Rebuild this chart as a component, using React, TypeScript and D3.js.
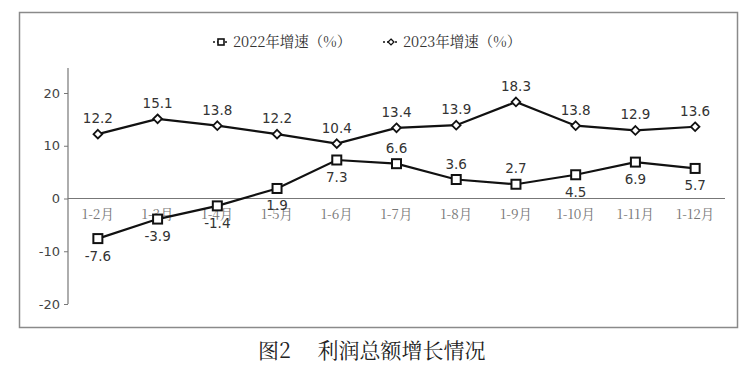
import React, { useEffect, useRef } from "react";
import * as d3 from "d3";

const months = ["1-2月", "1-3月", "1-4月", "1-5月", "1-6月", "1-7月", "1-8月", "1-9月", "1-10月", "1-11月", "1-12月"];
const growth2022 = [-7.6, -3.9, -1.4, 1.9, 7.3, 6.6, 3.6, 2.7, 4.5, 6.9, 5.7];
const growth2023 = [12.2, 15.1, 13.8, 12.2, 10.4, 13.4, 13.9, 18.3, 13.8, 12.9, 13.6];
// label placement for 2022 series: true = above point
const above2022 = [false, false, false, false, false, true, true, true, false, false, false];
const yTicks = [-20, -10, 0, 10, 20];

const width = 747;
const height = 367;

export default function App() {
  const ref = useRef<SVGSVGElement>(null);

  useEffect(() => {
    const svg = d3.select(ref.current);
    svg.selectAll("*").remove();

    const left = 68, right = 725;
    const x = d3.scaleBand().domain(months).range([left, right]);
    const y = d3.scaleLinear().domain([-20, 20]).range([304, 93]);
    const cx = (m: string) => (x(m) as number) + x.bandwidth() / 2;
    const serif = "'Noto Serif CJK SC', 'Liberation Serif', serif";

    // frame
    svg.append("rect")
      .attr("x", 19.5).attr("y", 12.5).attr("width", 718).attr("height", 315)
      .attr("fill", "none").attr("stroke", "#8a8a8a").attr("stroke-width", 1.5);

    // y axis
    const yAxis = d3.axisLeft(y).tickValues(yTicks).tickSize(4).tickFormat((d) => String(d));
    const gy = svg.append("g").attr("transform", `translate(${left},0)`).call(yAxis);
    gy.select(".domain").remove();
    gy.append("line").attr("x1", 0).attr("x2", 0).attr("y1", 68).attr("y2", y(-20))
      .attr("stroke", "#777").attr("stroke-width", 1.2);
    gy.selectAll(".tick line").attr("stroke", "#777");
    gy.selectAll(".tick text")
      .attr("font-family", "'DejaVu Sans', sans-serif").attr("font-size", 13)
      .attr("fill", "#444").attr("x", -8);

    // zero line
    svg.append("line").attr("x1", left).attr("x2", right).attr("y1", y(0)).attr("y2", y(0))
      .attr("stroke", "#777").attr("stroke-width", 1.2);

    // category labels
    svg.append("g").selectAll("text").data(months).join("text")
      .attr("x", (d) => cx(d)).attr("y", y(0) + 20)
      .attr("text-anchor", "middle")
      .attr("font-family", serif)
      .attr("font-size", 13.5).attr("fill", "#777")
      .text((d) => d);

    const line = d3.line<number>().x((_, i) => cx(months[i])).y((d) => y(d));

    // 2023 series
    svg.append("path").datum(growth2023).attr("d", line)
      .attr("fill", "none").attr("stroke", "#111").attr("stroke-width", 2.2);
    svg.append("g").selectAll("path").data(growth2023).join("path")
      .attr("d", d3.symbol(d3.symbolDiamond2, 48)())
      .attr("transform", (d, i) => `translate(${cx(months[i])},${y(d)})`)
      .attr("fill", "#fff").attr("stroke", "#111").attr("stroke-width", 1.8);
    svg.append("g").selectAll("text").data(growth2023).join("text")
      .attr("x", (d, i) => cx(months[i])).attr("y", (d) => y(d) - 11)
      .attr("text-anchor", "middle")
      .attr("font-family", "'DejaVu Sans', sans-serif").attr("font-size", 13.5).attr("fill", "#333")
      .text((d) => d.toFixed(1));

    // 2022 series
    svg.append("path").datum(growth2022).attr("d", line)
      .attr("fill", "none").attr("stroke", "#111").attr("stroke-width", 2.2);
    svg.append("g").selectAll("rect").data(growth2022).join("rect")
      .attr("x", (d, i) => cx(months[i]) - 4.5).attr("y", (d) => y(d) - 4.5)
      .attr("width", 9).attr("height", 9)
      .attr("fill", "#fff").attr("stroke", "#111").attr("stroke-width", 2);
    svg.append("g").selectAll("text").data(growth2022).join("text")
      .attr("x", (d, i) => cx(months[i])).attr("y", (d, i) => (above2022[i] ? y(d) - 11 : y(d) + 22))
      .attr("text-anchor", "middle")
      .attr("font-family", "'DejaVu Sans', sans-serif").attr("font-size", 13.5).attr("fill", "#333")
      .text((d) => d.toFixed(1));

    // legend
    const legend = [
      { label: "2022年增速（%）", x: 213, shape: "square" },
      { label: "2023年增速（%）", x: 383, shape: "diamond" },
    ];
    const lg = svg.append("g").selectAll("g").data(legend).join("g")
      .attr("transform", (d) => `translate(${d.x},42)`);
    lg.append("line").attr("x1", 0).attr("x2", 16).attr("y1", 0).attr("y2", 0)
      .attr("stroke", "#111").attr("stroke-width", 1.5).attr("stroke-dasharray", "2,2");
    lg.each(function (d) {
      const g = d3.select(this);
      if (d.shape === "square") {
        g.append("rect").attr("x", 5).attr("y", -3).attr("width", 6).attr("height", 6)
          .attr("fill", "#fff").attr("stroke", "#111").attr("stroke-width", 1.6);
      } else {
        g.append("path").attr("d", d3.symbol(d3.symbolDiamond2, 22)())
          .attr("transform", "translate(8,0)")
          .attr("fill", "#fff").attr("stroke", "#111").attr("stroke-width", 1.3);
      }
    });
    lg.append("text").attr("x", 20).attr("y", 5)
      .attr("font-family", serif)
      .attr("font-size", 14.5).attr("fill", "#333")
      .text((d) => d.label);

    // caption
    svg.append("text").attr("x", 258).attr("y", 358)
      .attr("font-family", serif)
      .attr("font-size", 21).attr("fill", "#222")
      .attr("xml:space", "preserve")
      .text("图2     利润总额增长情况");
  }, []);

  return (
    <svg ref={ref} width={width} height={height}
      style={{ position: "absolute", left: 0, top: 0, background: "#fff" }} />
  );
}
